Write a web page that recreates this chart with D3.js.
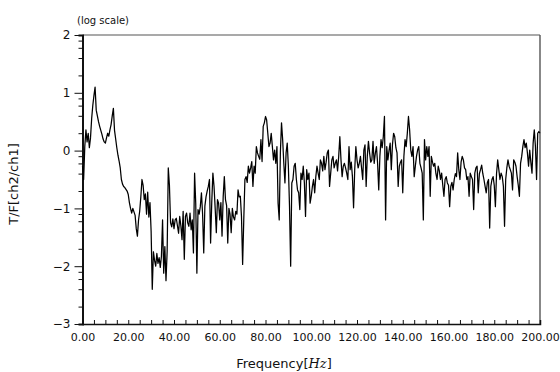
<!DOCTYPE html>
<html>
<head>
<meta charset="utf-8">
<script src="https://cdn.jsdelivr.net/npm/d3@7"></script>
<style>
  body { margin: 0; background: #fff; }
  text { font-family: "DejaVu Sans", sans-serif; fill: #111; }
</style>
</head>
<body>
<div id="chart"></div>
<script>
// transfer function ch2/ch1, log10 magnitude, sampled every 0.5 Hz from 0 to 200 Hz
const freqStep = 0.5;
const tfLog = [
  -0.27, -0.5, 0.07, 0.36, 0.15, 0.3, 0.05, 0.22, 0.55, 0.78, 0.95, 1.1, 0.7, 0.6, 0.5, 0.42, 0.35, 0.28, 0.2, 0.15,
  0.13, 0.22, 0.3, 0.25, 0.36, 0.45, 0.6, 0.73, 0.35, 0.2, 0.05, -0.08, -0.18, -0.3, -0.5, -0.58, -0.62, -0.64, -0.67, -0.7,
  -0.76, -0.9, -1.0, -1.08, -1.0, -1.06, -1.12, -1.35, -1.48, -1.2, -1.05, -0.8, -0.5, -0.6, -0.85, -0.75, -1.1, -0.72, -1.15, -0.9,
  -1.4, -2.4, -1.75, -1.9, -2.0, -1.78, -1.95, -1.85, -2.02, -1.83, -1.2, -2.12, -1.66, -2.25, -1.75, -0.3, -0.6, -1.25, -1.32, -1.18,
  -1.35, -1.2, -1.17, -1.3, -1.43, -1.14, -1.3, -1.54, -1.05, -1.88, -1.14, -1.08, -1.25, -1.31, -1.08, -1.37, -1.2, -1.77, -0.39, -0.91,
  -2.12, -1.02, -1.1, -0.97, -0.73, -1.1, -1.77, -0.96, -0.8, -0.7, -0.62, -0.5, -1.6, -0.9, -0.39, -0.62, -1.0, -1.42, -0.85, -0.91,
  -1.2, -0.9, -1.48, -0.8, -0.45, -0.85, -0.95, -1.6, -1.0, -1.1, -1.42, -1.0, -1.15, -1.2, -1.05, -1.1, -0.68, -0.8, -0.79, -1.14,
  -1.97, -1.2, -0.5, -0.45, -0.55, -0.27, -0.39, -0.3, -0.19, -0.62, -0.27, -0.39, 0.07, -0.04, -0.1, -0.15, 0.19, -0.19, 0.42, 0.48,
  0.59, 0.53, 0.3, 0.07, 0.13, 0.3, 0.07, -0.16, 0.01, -0.22, 0.07, -0.91, -1.2, -0.04, 0.48, 0.19, -0.22, -0.56, -0.04, 0.13,
  -0.27, -0.97, -2.0, -0.56, -0.5, -0.27, -0.22, -0.5, -0.68, -0.73, -1.02, -0.39, -0.5, -0.27, -0.56, -1.14, -0.33, -0.5, -0.39, -0.91,
  -0.79, -0.62, -0.5, -0.73, -0.45, -0.27, -0.39, -0.5, -0.16, -0.22, -0.35, -0.1, -0.33, -0.2, -0.04, 0.01, -0.62, -0.39, -0.16, -0.1,
  -0.3, -0.22, -0.16, -0.35, -0.1, 0.24, -0.16, -0.45, -0.27, -0.22, -0.3, -0.39, -0.5, 0.07, -0.33, -0.2, -0.45, -0.99, -0.33, 0.07,
  -0.16, -0.3, -0.22, -0.1, -0.3, -0.5, 0.01, 0.1, -0.62, -0.1, 0.16, -0.04, -0.2, -0.16, 0.16, -0.22, -0.05, 0.07, -0.22, -0.68,
  -0.1, 0.19, 0.05, 0.24, 0.59, -1.2, 0.07, -0.16, 0.0, 0.13, -0.33, 0.1, 0.3, 0.24, 0.05, -0.04, -0.62, -0.27, -0.2, -0.16,
  -0.73, -0.1, 0.19, 0.07, 0.3, 0.59, 0.36, 0.01, -0.1, 0.07, -0.45, -0.27, -0.1, 0.01, 0.07, -0.22, -0.3, -0.39, -1.2, 0.19,
  -0.16, 0.07, -0.1, 0.07, -0.79, -0.1, -0.2, -0.27, -0.22, -0.4, -0.5, -0.27, -0.35, -0.5, -0.39, -0.6, -0.79, -0.5, -0.45, -0.56,
  -0.6, -0.97, -0.62, -0.55, -0.68, -0.5, -0.4, -0.45, -0.04, -0.33, -0.5, -0.2, -0.1, -0.16, -0.3, -0.33, -0.5, -0.45, -0.79, -0.39,
  -0.45, -0.5, -1.02, -0.39, -0.3, -0.27, -0.73, -0.4, -0.33, -0.25, -0.4, -0.5, -0.62, -0.73, -0.55, -0.5, -1.34, -0.62, -0.5, -0.45,
  -0.6, -0.97, -0.4, -0.16, -0.33, -0.5, -0.39, -0.45, -0.62, -1.31, -0.5, -0.3, -0.16, -0.27, -0.33, -0.39, -0.68, -0.16, -0.2, -0.27,
  -0.45, -0.6, -0.79, -0.22, -0.1, 0.07, 0.19, 0.05, 0.13, -0.04, -0.27, 0.01, -0.2, -0.39, 0.13, 0.36, 0.07, -0.5, 0.3, 0.33,
  0.3
];
const xTickValues = [0, 20, 40, 60, 80, 100, 120, 140, 160, 180, 200];
const xTickLabels = ['0.00', '20.00', '40.00', '60.00', '80.00', '100.00', '120.00', '140.00', '160.00', '180.00', '200.00'];
const yTickValues = [2, 1, 0, -1, -2, -3];
const yTickLabels = ['2', '1', '0', '\u22121', '\u22122', '\u22123'];

const width = 560, height = 372;
const margin = { left: 82.5, right: 20, top: 35, bottom: 48 };

const svg = d3.select('#chart').append('svg')
    .attr('width', width)
    .attr('height', height);

const x = d3.scaleLinear()
    .domain([0, 200])
    .range([margin.left, width - margin.right]);
const y = d3.scaleLinear()
    .domain([-3, 2])
    .range([height - margin.bottom, margin.top]);

const points = tfLog.map((v, i) => ({ f: i * freqStep, v: v }));

// frame: top and right in grey, left and bottom black
svg.append('line')
    .attr('x1', x(0)).attr('x2', x(200))
    .attr('y1', y(2)).attr('y2', y(2))
    .attr('stroke', '#555').attr('stroke-width', 1.2);
svg.append('line')
    .attr('x1', x(200)).attr('x2', x(200))
    .attr('y1', y(2)).attr('y2', y(-3))
    .attr('stroke', '#555').attr('stroke-width', 1.4);

// x axis, ticks every 5 Hz pointing inward
const xAxis = d3.axisBottom(x)
    .tickValues(d3.range(0, 201, 5))
    .tickSize(-4)
    .tickPadding(9)
    .tickFormat(d => {
        const k = xTickValues.indexOf(d);
        return k >= 0 ? xTickLabels[k] : '';
    });
const gx = svg.append('g')
    .attr('transform', `translate(0,${y(-3)})`)
    .call(xAxis);
gx.select('.domain').attr('stroke', '#111').attr('stroke-width', 1.5);
gx.selectAll('.tick line').attr('stroke', '#111').attr('stroke-width', 1);
gx.selectAll('.tick text')
    .attr('font-size', 11)
    .style('font-family', '"DejaVu Sans", sans-serif')
    .attr('fill', '#000');

// y axis, major at decades, minor at 2,4,6,8 inside each decade
const minorY = [];
for (let d = -3; d < 2; d++) {
    [2, 4, 6, 8].forEach(k => minorY.push(d + Math.log10(k)));
}
const gy = svg.append('g')
    .attr('transform', `translate(${x(0)},0)`);
gy.call(d3.axisLeft(y).tickValues(minorY).tickSize(4).tickFormat(''));
gy.call(g => {
    const gm = g.append('g');
    gm.call(d3.axisLeft(y)
        .tickValues(yTickValues)
        .tickSize(8)
        .tickPadding(4)
        .tickFormat((d, i) => yTickLabels[i]));
    gm.select('.domain').remove();
});
gy.selectAll('.domain').attr('stroke', '#111').attr('stroke-width', 2);
gy.selectAll('.tick line').attr('stroke', '#111');
gy.selectAll('.tick text')
    .attr('font-size', 12)
    .style('font-family', '"DejaVu Sans", sans-serif')
    .attr('fill', '#000');

// the transfer function
const lineBuilder = d3.line()
    .x(d => x(d.f))
    .y(d => y(d.v));
svg.append('path')
    .datum(points)
    .attr('d', lineBuilder)
    .attr('fill', 'none')
    .attr('stroke', '#000')
    .attr('stroke-width', 1.25)
    .attr('stroke-linejoin', 'round');

// labels
svg.append('text')
    .attr('x', 77)
    .attr('y', 24)
    .attr('font-size', 10)
    .text('(log scale)');

const xl = svg.append('text')
    .attr('x', 284)
    .attr('y', 368)
    .attr('text-anchor', 'middle')
    .attr('font-size', 13);
xl.append('tspan').text('Frequency[');
xl.append('tspan')
    .style('font-family', '"DejaVu Serif", serif')
    .attr('font-style', 'italic')
    .text('Hz');
xl.append('tspan').text(']');

svg.append('text')
    .attr('transform', 'translate(18,184) rotate(-90)')
    .attr('text-anchor', 'middle')
    .attr('font-size', 13)
    .text('T/F[ch2/ch1]');
</script>
</body>
</html>
